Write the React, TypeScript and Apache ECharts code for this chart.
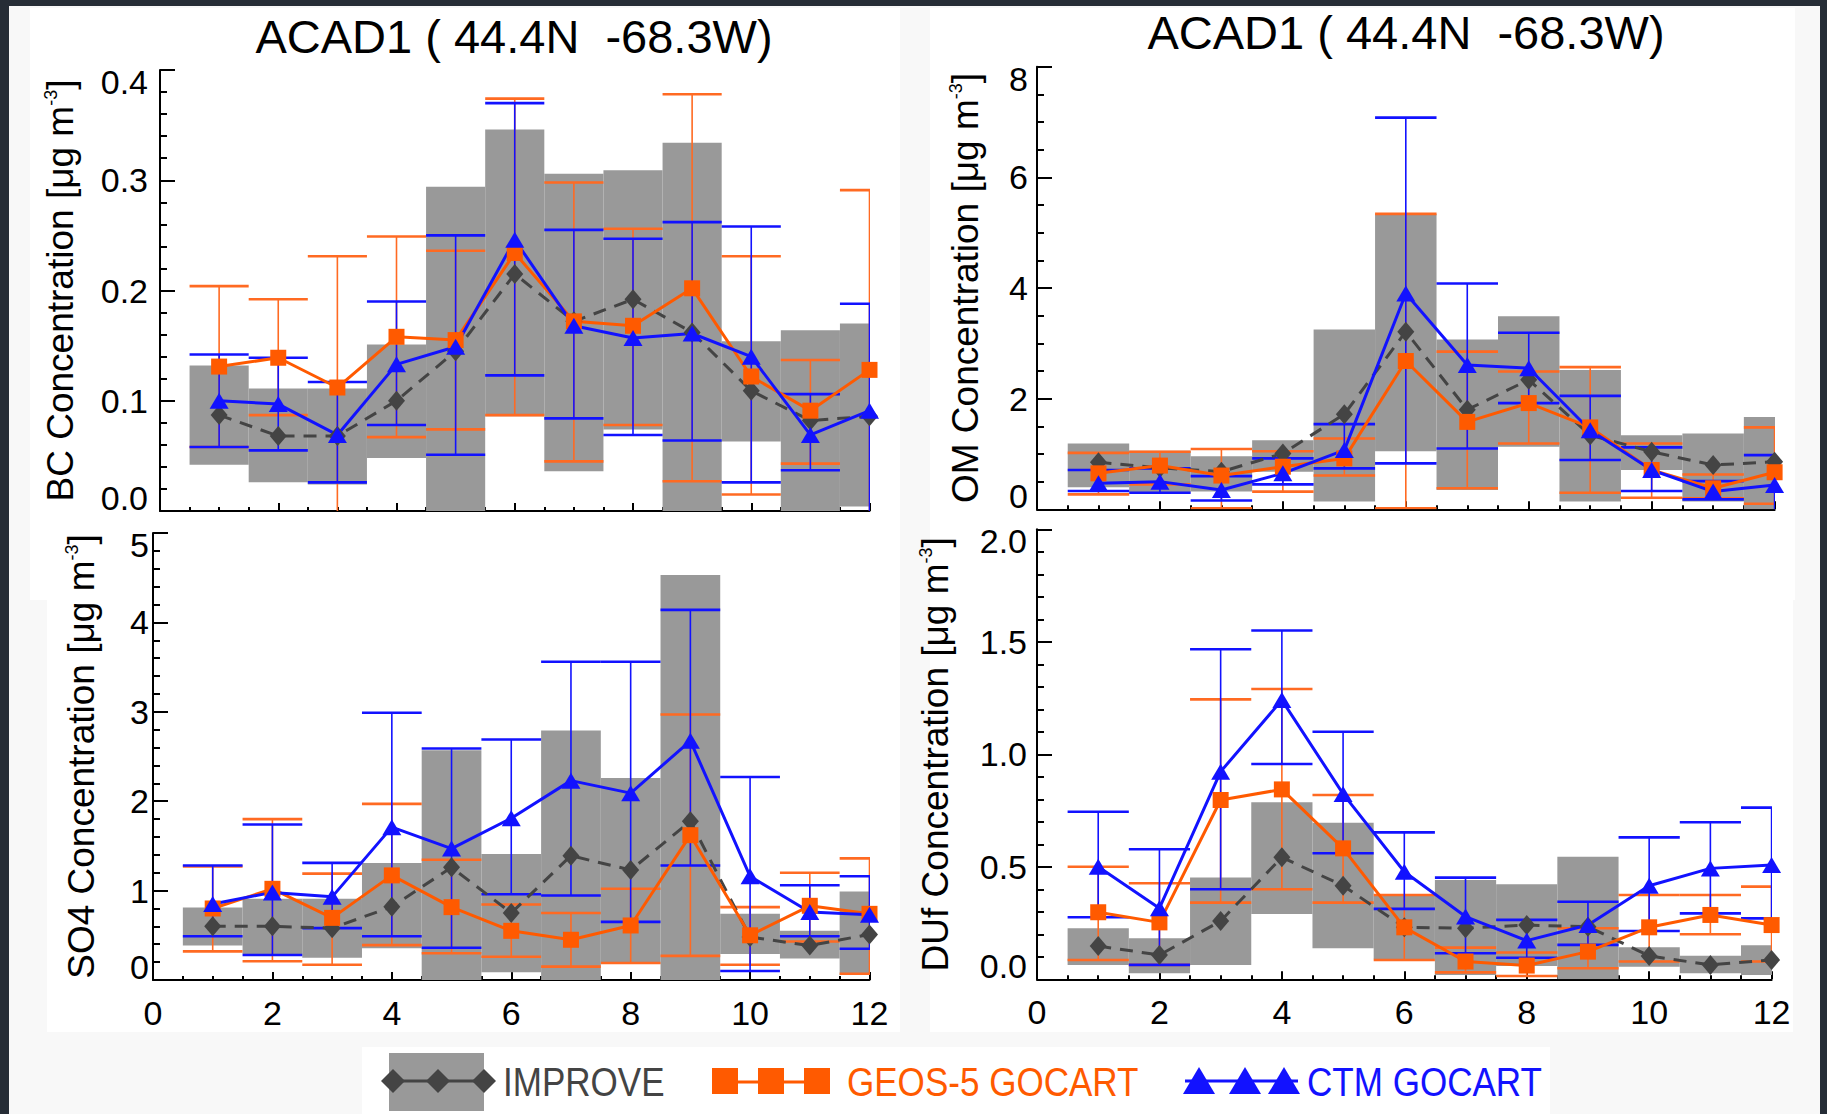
import React, { useEffect, useRef } from 'react';
import * as echarts from 'echarts';

const months = [1, 2, 3, 4, 5, 6, 7, 8, 9, 10, 11, 12];
const xTickLabels = ['0', '2', '4', '6', '8', '10', '12'];
const titleText = 'ACAD1 ( 44.4N  -68.3W)';

// BC
const bcImpMed = [0.087, 0.068, 0.068, 0.1, 0.145, 0.215, 0.172, 0.192, 0.162, 0.109, 0.082, 0.086];
const bcImpLo = [0.042, 0.026, 0.024, 0.048, 0.0, 0.086, 0.036, 0.074, 0.0, 0.063, 0.0, 0.004];
const bcImpHi = [0.132, 0.111, 0.111, 0.151, 0.294, 0.346, 0.306, 0.309, 0.334, 0.154, 0.164, 0.17];
const bcGeos = [0.131, 0.139, 0.112, 0.158, 0.155, 0.234, 0.172, 0.168, 0.202, 0.122, 0.091, 0.128];
const bcGeosLo = [0.058, 0.087, -0.005, 0.067, 0.074, 0.087, 0.045, 0.078, 0.027, 0.015, 0.043, -0.005];
const bcGeosHi = [0.204, 0.192, 0.231, 0.249, 0.236, 0.374, 0.298, 0.256, 0.378, 0.231, 0.137, 0.291];
const bcCtm = [0.1, 0.097, 0.069, 0.133, 0.149, 0.246, 0.168, 0.157, 0.161, 0.14, 0.069, 0.091];
const bcCtmLo = [0.058, 0.055, 0.026, 0.078, 0.051, 0.123, 0.084, 0.069, 0.064, 0.026, 0.037, -0.005];
const bcCtmHi = [0.142, 0.139, 0.117, 0.19, 0.25, 0.37, 0.255, 0.247, 0.262, 0.258, 0.106, 0.188];

// OM
const omImpMed = [0.85, 0.75, 0.68, 1.01, 1.72, 3.21, 1.8, 2.34, 1.34, 1.04, 0.8, 0.86];
const omImpLo = [0.4, 0.31, 0.32, 0.68, 0.14, 1.05, 0.35, 1.13, 0.14, 0.71, 0.14, 0.0];
const omImpHi = [1.19, 1.06, 0.96, 1.25, 3.25, 5.34, 3.07, 3.49, 2.52, 1.34, 1.37, 1.67];
const omGeos = [0.65, 0.79, 0.61, 0.77, 0.92, 2.68, 1.58, 1.92, 1.48, 0.71, 0.38, 0.67];
const omGeosLo = [0.27, 0.45, 0.02, 0.32, 0.61, 0.02, 0.38, 1.19, 0.3, 0.21, 0.2, 0.1];
const omGeosHi = [1.02, 1.04, 1.09, 1.05, 1.28, 5.34, 2.85, 2.49, 2.57, 1.19, 0.63, 1.48];
const omCtm = [0.47, 0.5, 0.35, 0.65, 1.07, 3.9, 2.61, 2.55, 1.43, 0.71, 0.32, 0.44];
const omCtmLo = [0.33, 0.3, 0.16, 0.45, 0.74, 0.83, 1.1, 1.92, 0.89, 0.33, 0.18, -0.05];
const omCtmHi = [0.71, 0.74, 0.6, 0.92, 1.54, 7.08, 4.08, 3.19, 2.05, 1.12, 0.51, 0.98];

// SO4
const so4ImpMed = [0.6, 0.6, 0.58, 0.82, 1.26, 0.75, 1.39, 1.23, 1.775, 0.48, 0.385, 0.51];
const so4ImpLo = [0.385, 0.29, 0.25, 0.355, 0.0, 0.086, 0.0, 0.18, 0.0, 0.29, 0.24, 0.056];
const so4ImpHi = [0.81, 0.91, 0.91, 1.31, 2.57, 1.41, 2.79, 2.26, 4.53, 0.74, 0.55, 0.99];
const so4Geos = [0.8, 1.02, 0.695, 1.17, 0.815, 0.55, 0.45, 0.61, 1.62, 0.5, 0.83, 0.74];
const so4GeosLo = [0.32, 0.21, 0.17, 0.39, 0.3, 0.26, 0.15, 0.19, 0.27, 0.17, 0.43, 0.07];
const so4GeosHi = [1.27, 1.8, 1.19, 1.97, 1.345, 0.845, 0.75, 1.02, 2.97, 0.815, 1.2, 1.36];
const so4Ctm = [0.85, 0.98, 0.93, 1.71, 1.47, 1.81, 2.23, 2.09, 2.675, 1.16, 0.76, 0.73];
const so4CtmLo = [0.49, 0.28, 0.58, 0.49, 0.36, 0.96, 0.945, 0.65, 1.28, 0.1, 0.49, 0.35];
const so4CtmHi = [1.28, 1.74, 1.31, 2.99, 2.59, 2.69, 3.56, 3.56, 4.14, 2.27, 1.06, 1.16];

// DUf
const dufImpMed = [0.148, 0.108, 0.259, 0.542, 0.416, 0.231, 0.227, 0.241, 0.234, 0.104, 0.064, 0.086];
const dufImpLo = [0.064, 0.027, 0.064, 0.29, 0.138, 0.089, 0.019, 0.059, 0.0, 0.056, 0.027, 0.019];
const dufImpHi = [0.227, 0.182, 0.453, 0.787, 0.696, 0.37, 0.441, 0.422, 0.545, 0.142, 0.105, 0.151];
const dufGeos = [0.298, 0.253, 0.797, 0.844, 0.582, 0.231, 0.079, 0.061, 0.123, 0.231, 0.286, 0.241];
const dufGeosLo = [0.086, 0.064, 0.341, 0.4, 0.341, 0.086, 0.031, 0.015, 0.049, 0.079, 0.2, 0.079];
const dufGeosHi = [0.5, 0.427, 1.244, 1.29, 0.819, 0.375, 0.141, 0.119, 0.227, 0.375, 0.375, 0.412];
const dufCtm = [0.5, 0.316, 0.923, 1.241, 0.824, 0.478, 0.279, 0.172, 0.241, 0.416, 0.493, 0.508];
const dufCtmLo = [0.276, 0.064, 0.4, 0.957, 0.56, 0.313, 0.116, 0.096, 0.153, 0.215, 0.293, 0.271];
const dufCtmHi = [0.745, 0.578, 1.467, 1.55, 1.1, 0.653, 0.452, 0.264, 0.345, 0.631, 0.698, 0.763];

const legendNames = ['IMPROVE', 'GEOS-5 GOCART', 'CTM GOCART'];

const FONT = 'Liberation Sans, Arial, Helvetica, sans-serif';
const GRAY_BOX = '#999999';
const IMP_COLOR = '#444444';
const GEOS_COLOR = '#ff5a00';
const GEOS_ERR = '#ff6a22';
const CTM_COLOR = '#1212ff';

interface Panel {
  species: string;
  yMax: number;
  yInterval: number;
  minorSplit: number;
  decimals: number;
  grid: { left: number; top: number; width: number; height: number };
  showXLabels: boolean;
  labelMargin: number;
  nameX: number;
  title?: { x: number; y: number };
  med: number[]; lo: number[]; hi: number[];
  geos: number[]; geosLo: number[]; geosHi: number[];
  ctm: number[]; ctmLo: number[]; ctmHi: number[];
}

const panels: Panel[] = [
  {
    species: 'BC', yMax: 0.4, yInterval: 0.1, minorSplit: 5, decimals: 1,
    grid: { left: 160, top: 70, width: 709.5, height: 441 }, showXLabels: false, labelMargin: 12, nameX: 60,
    title: { x: 514, y: 36 },
    med: bcImpMed, lo: bcImpLo, hi: bcImpHi, geos: bcGeos, geosLo: bcGeosLo, geosHi: bcGeosHi,
    ctm: bcCtm, ctmLo: bcCtmLo, ctmHi: bcCtmHi,
  },
  {
    species: 'OM', yMax: 8, yInterval: 2, minorSplit: 4, decimals: 0,
    grid: { left: 1037, top: 66.7, width: 737.6, height: 442.6 }, showXLabels: false, labelMargin: 9, nameX: 965,
    title: { x: 1406, y: 32 },
    med: omImpMed, lo: omImpLo, hi: omImpHi, geos: omGeos, geosLo: omGeosLo, geosHi: omGeosHi,
    ctm: omCtm, ctmLo: omCtmLo, ctmHi: omCtmHi,
  },
  {
    species: 'SO4', yMax: 5, yInterval: 1, minorSplit: 5, decimals: 0,
    grid: { left: 153, top: 533, width: 716.5, height: 447 }, showXLabels: true, labelMargin: 4, nameX: 81,
    med: so4ImpMed, lo: so4ImpLo, hi: so4ImpHi, geos: so4Geos, geosLo: so4GeosLo, geosHi: so4GeosHi,
    ctm: so4Ctm, ctmLo: so4CtmLo, ctmHi: so4CtmHi,
  },
  {
    species: 'DUf', yMax: 2, yInterval: 0.5, minorSplit: 5, decimals: 1,
    grid: { left: 1037, top: 529.3, width: 734.6, height: 450 }, showXLabels: true, labelMargin: 10, nameX: 935,
    med: dufImpMed, lo: dufImpLo, hi: dufImpHi, geos: dufGeos, geosLo: dufGeosLo, geosHi: dufGeosHi,
    ctm: dufCtm, ctmLo: dufCtmLo, ctmHi: dufCtmHi,
  },
];

const boxRender = (params: any, api: any) => {
  const m = api.value(0);
  const lo = api.value(1);
  const hi = api.value(2);
  const p1 = api.coord([m - 0.5, hi]);
  const p2 = api.coord([m + 0.5, lo]);
  return {
    type: 'rect',
    shape: { x: p1[0], y: p1[1], width: p2[0] - p1[0], height: p2[1] - p1[1] },
    style: { fill: GRAY_BOX },
  };
};

const errRender = (color: string) => (params: any, api: any) => {
  const m = api.value(0);
  const lo = api.value(1);
  const hi = api.value(2);
  const top = api.coord([m, hi]);
  const bot = api.coord([m, lo]);
  const l = api.coord([m - 0.5, hi])[0];
  const r = api.coord([m + 0.5, hi])[0];
  return {
    type: 'group',
    children: [
      { type: 'line', shape: { x1: top[0], y1: top[1], x2: bot[0], y2: bot[1] }, style: { stroke: color, lineWidth: 1.6 } },
      { type: 'line', shape: { x1: l, y1: top[1], x2: r, y2: top[1] }, style: { stroke: color, lineWidth: 2.6 } },
      { type: 'line', shape: { x1: l, y1: bot[1], x2: r, y2: bot[1] }, style: { stroke: color, lineWidth: 2.6 } },
    ],
  };
};

function buildOption() {
  const grids: any[] = [];
  const xAxes: any[] = [];
  const yAxes: any[] = [];
  const series: any[] = [];
  const graphics: any[] = [];

  // backgrounds
  graphics.push(
    { type: 'rect', z: -20, silent: true, shape: { x: 0, y: 0, width: 1827, height: 1114 }, style: { fill: '#f8f8f8' } },
    { type: 'rect', z: -19, silent: true, shape: { x: 30, y: 8, width: 870, height: 592 }, style: { fill: '#ffffff' } },
    { type: 'rect', z: -19, silent: true, shape: { x: 47, y: 515, width: 853, height: 517 }, style: { fill: '#ffffff' } },
    { type: 'rect', z: -19, silent: true, shape: { x: 930, y: 8, width: 865, height: 592 }, style: { fill: '#ffffff' } },
    { type: 'rect', z: -19, silent: true, shape: { x: 930, y: 515, width: 863, height: 517 }, style: { fill: '#ffffff' } },
    { type: 'rect', z: -19, silent: true, shape: { x: 362, y: 1047, width: 1188, height: 67 }, style: { fill: '#ffffff' } },
    { type: 'rect', z: -18, silent: true, shape: { x: 0, y: 0, width: 1827, height: 6 }, style: { fill: '#262d36' } },
    { type: 'rect', z: -18, silent: true, shape: { x: 0, y: 0, width: 9, height: 1114 }, style: { fill: '#262d36' } },
    { type: 'rect', z: -18, silent: true, shape: { x: 1820, y: 0, width: 7, height: 1114 }, style: { fill: '#262d36' } },
  );

  panels.forEach((p, i) => {
    grids.push({ ...p.grid, containLabel: false });
    xAxes.push({
      type: 'value', gridIndex: i, min: 0, max: 12, interval: 2,
      axisLine: { show: true, onZero: false, lineStyle: { color: '#000', width: 2 } },
      axisTick: { show: true, inside: true, length: 8, lineStyle: { color: '#000', width: 2 } },
      minorTick: { show: true, splitNumber: 4, length: 4, lineStyle: { color: '#000', width: 2 } },
      splitLine: { show: false },
      axisLabel: {
        show: p.showXLabels, fontSize: 34, color: '#000', fontFamily: FONT, margin: 16,
        formatter: (v: number) => xTickLabels[Math.round(v / 2)] ?? String(v),
      },
    });
    const maxV = p.yMax;
    yAxes.push({
      type: 'value', gridIndex: i, min: 0, max: p.yMax, interval: p.yInterval,
      axisLine: { show: true, lineStyle: { color: '#000', width: 2 } },
      axisTick: { show: true, inside: true, length: 15, lineStyle: { color: '#000', width: 2 } },
      minorTick: { show: true, splitNumber: p.minorSplit, length: 7, lineStyle: { color: '#000', width: 2 } },
      splitLine: { show: false },
      axisLabel: {
        show: true, fontSize: 34, color: '#000', fontFamily: FONT, margin: p.labelMargin,
        formatter: (v: number) => {
          const s = v.toFixed(p.decimals);
          if (Math.abs(v - maxV) < 1e-9) return '{t|' + s + '}';
          if (Math.abs(v) < 1e-9) return '{b|' + s + '}';
          return s;
        },
        rich: {
          t: { fontSize: 34, fontFamily: FONT, color: '#000', padding: [24, 0, 0, 0] },
          b: { fontSize: 34, fontFamily: FONT, color: '#000', padding: [0, 0, 26, 0] },
        },
      },
    });

    const mk = (a: number[], b: number[]) => months.map((m, k) => [m, a[k], b[k]]);
    const pts = (a: number[]) => months.map((m, k) => [m, a[k]]);

    series.push({
      type: 'custom', name: 'IMPROVE range', xAxisIndex: i, yAxisIndex: i, clip: true,
      renderItem: boxRender, encode: { x: 0, y: [1, 2] }, data: mk(p.lo, p.hi), silent: true,
    });
    series.push({
      type: 'line', name: legendNames[0], xAxisIndex: i, yAxisIndex: i, clip: false,
      data: pts(p.med), symbol: 'diamond', symbolSize: [17, 20],
      lineStyle: { color: IMP_COLOR, width: 3, type: [13, 9] }, itemStyle: { color: IMP_COLOR },
    });
    series.push({
      type: 'custom', name: 'GEOS range', xAxisIndex: i, yAxisIndex: i, clip: true,
      renderItem: errRender(GEOS_ERR), encode: { x: 0, y: [1, 2] }, data: mk(p.geosLo, p.geosHi), silent: true,
    });
    series.push({
      type: 'line', name: legendNames[1], xAxisIndex: i, yAxisIndex: i, clip: false,
      data: pts(p.geos), symbol: 'rect', symbolSize: [16, 16],
      lineStyle: { color: GEOS_COLOR, width: 3 }, itemStyle: { color: GEOS_COLOR },
    });
    series.push({
      type: 'custom', name: 'CTM range', xAxisIndex: i, yAxisIndex: i, clip: true,
      renderItem: errRender(CTM_COLOR), encode: { x: 0, y: [1, 2] }, data: mk(p.ctmLo, p.ctmHi), silent: true,
    });
    series.push({
      type: 'line', name: legendNames[2], xAxisIndex: i, yAxisIndex: i, clip: false,
      data: pts(p.ctm), symbol: 'triangle', symbolSize: [19, 16],
      lineStyle: { color: CTM_COLOR, width: 3 }, itemStyle: { color: CTM_COLOR },
    });

    // axis name
    graphics.push({
      type: 'text', z: 10, x: p.nameX, y: p.grid.top + p.grid.height / 2, rotation: Math.PI / 2,
      style: {
        text: p.species + ' Concentration [μg m{s|-3}]',
        fontSize: 37, fontFamily: FONT, fill: '#000', align: 'center', verticalAlign: 'middle',
        rich: { s: { fontSize: 18, fontFamily: FONT, fill: '#000', verticalAlign: 'top' } },
      },
    });
    if (p.title) {
      graphics.push({
        type: 'text', z: 10, x: p.title.x, y: p.title.y,
        style: { text: titleText, fontSize: 47, fontFamily: FONT, fill: '#000', align: 'center', verticalAlign: 'middle' },
      });
    }
  });

  // legend
  const ly = 1081;
  const diamond = (cx: number) => ({
    type: 'polygon', z: 11,
    shape: { points: [[cx, ly - 12], [cx + 12, ly], [cx, ly + 12], [cx - 12, ly]] },
    style: { fill: IMP_COLOR },
  });
  const square = (cx: number) => ({
    type: 'rect', z: 11, shape: { x: cx - 13, y: ly - 13, width: 26, height: 26 }, style: { fill: GEOS_COLOR },
  });
  const tri = (cx: number) => ({
    type: 'polygon', z: 11,
    shape: { points: [[cx, ly - 14], [cx + 16, ly + 13], [cx - 16, ly + 13]] },
    style: { fill: CTM_COLOR },
  });
  const legendText = (x: number, text: string, color: string) => ({
    type: 'text', z: 11, x, y: ly, scaleX: 0.855,
    style: { text, fontSize: 41, fontFamily: FONT, fill: color, align: 'left', verticalAlign: 'middle' },
  });
  graphics.push(
    { type: 'rect', z: 10, shape: { x: 389, y: 1053, width: 95, height: 58 }, style: { fill: GRAY_BOX } },
    { type: 'line', z: 11, shape: { x1: 393, y1: ly, x2: 484, y2: ly }, style: { stroke: IMP_COLOR, lineWidth: 3 } },
    diamond(393), diamond(438), diamond(484),
    legendText(503, legendNames[0], IMP_COLOR),
    { type: 'line', z: 11, shape: { x1: 712, y1: ly + 1, x2: 830, y2: ly + 1 }, style: { stroke: GEOS_COLOR, lineWidth: 3 } },
    square(725), square(771), square(817),
    legendText(847, legendNames[1], GEOS_COLOR),
    { type: 'line', z: 11, shape: { x1: 1185, y1: ly, x2: 1298, y2: ly }, style: { stroke: CTM_COLOR, lineWidth: 3 } },
    tri(1199), tri(1245), tri(1284),
    legendText(1307, legendNames[2], CTM_COLOR),
  );

  return {
    animation: false,
    backgroundColor: '#f8f8f8',
    grid: grids,
    xAxis: xAxes,
    yAxis: yAxes,
    series,
    graphic: { elements: graphics },
  };
}

export default function App() {
  const ref = useRef<HTMLDivElement>(null);
  useEffect(() => {
    document.body.style.margin = '0';
    if (!ref.current) return;
    const chart = echarts.init(ref.current, undefined, { renderer: 'svg' });
    chart.setOption(buildOption() as any);
    return () => chart.dispose();
  }, []);
  return <div ref={ref} style={{ position: 'absolute', left: 0, top: 0, width: 1827, height: 1114 }} />;
}
